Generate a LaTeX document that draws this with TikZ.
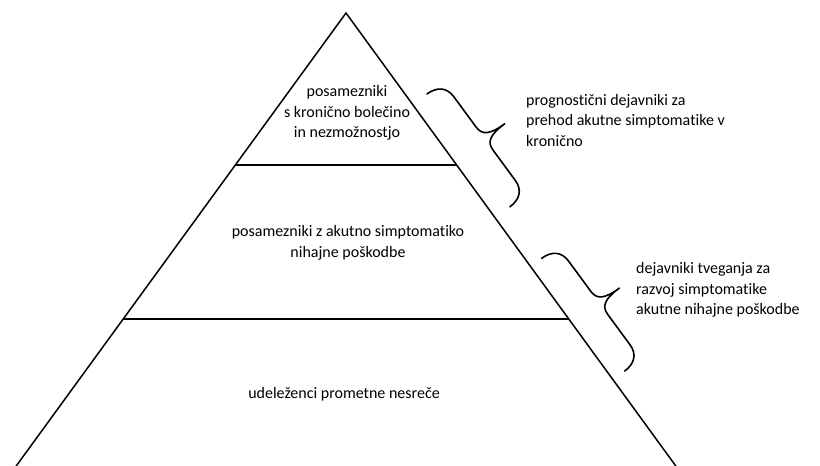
\documentclass[tikz,border=0pt]{standalone}
\usepackage{fontspec}
\setmainfont{Carlito}[Ligatures={NoCommon}]
\usetikzlibrary{calc}
\begin{document}
\begin{tikzpicture}[x=1pt,y=1pt,
  edge/.style={line width=1.5pt, line join=miter},
  bracestyle/.style={line width=1.6pt, line cap=round, line join=round},
  lbl/.style={inner sep=0pt, font=\fontsize{16}{20.5}\selectfont, align=center},
  sidelbl/.style={inner sep=0pt, font=\fontsize{16}{20.5}\selectfont, align=left, anchor=west},
  curlybrace/.pic={\draw[bracestyle] (0,0) .. controls (0,12) and (6,20) .. (18,20) -- (56,20)
     .. controls (66,20) and (70,27) .. (70,45)
     .. controls (70,27) and (74,20) .. (84,20) -- (122,20)
     .. controls (134,20) and (140,12) .. (140,0);}]
\useasboundingbox (0,0) rectangle (820,-466);
\clip (0,0) rectangle (820,-466);
% pyramid
\coordinate (apex) at (346,-13);
\coordinate (bl) at (11.1,-473);
\coordinate (br) at (680.9,-473);
\draw[edge] (bl) -- (apex) -- (br);
\coordinate (l1a) at ($(apex)!0.3304!(bl)$);
\coordinate (l1b) at ($(apex)!0.3304!(br)$);
\coordinate (l2a) at ($(apex)!0.6652!(bl)$);
\coordinate (l2b) at ($(apex)!0.6652!(br)$);
\draw[edge] (l1a) -- (l1b);
\draw[edge] (l2a) -- (l2b);
% labels
\node[lbl] (top) at (347,-113) {posamezniki\\s kronično bolečino\\in nezmožnostjo};
\node[lbl] (mid) at (348,-243) {posamezniki z akutno simptomatiko\\nihajne poškodbe};
\node[lbl, anchor=base] (bot) at (344,-398) {udeleženci prometne nesreče};
\node[sidelbl] (r1) at (526,-120) {prognostični dejavniki za\\prehod akutne simptomatike v\\kronično};
\node[sidelbl] (r2) at (636,-290) {dejavniki tveganja za\\razvoj simptomatike\\akutne nihajne poškodbe};
% braces
\pic[rotate=-53.7] at (427,-94) {curlybrace};
\pic[rotate=-53.7] at (541.7,-258.3) {curlybrace};
\end{tikzpicture}
\end{document}
